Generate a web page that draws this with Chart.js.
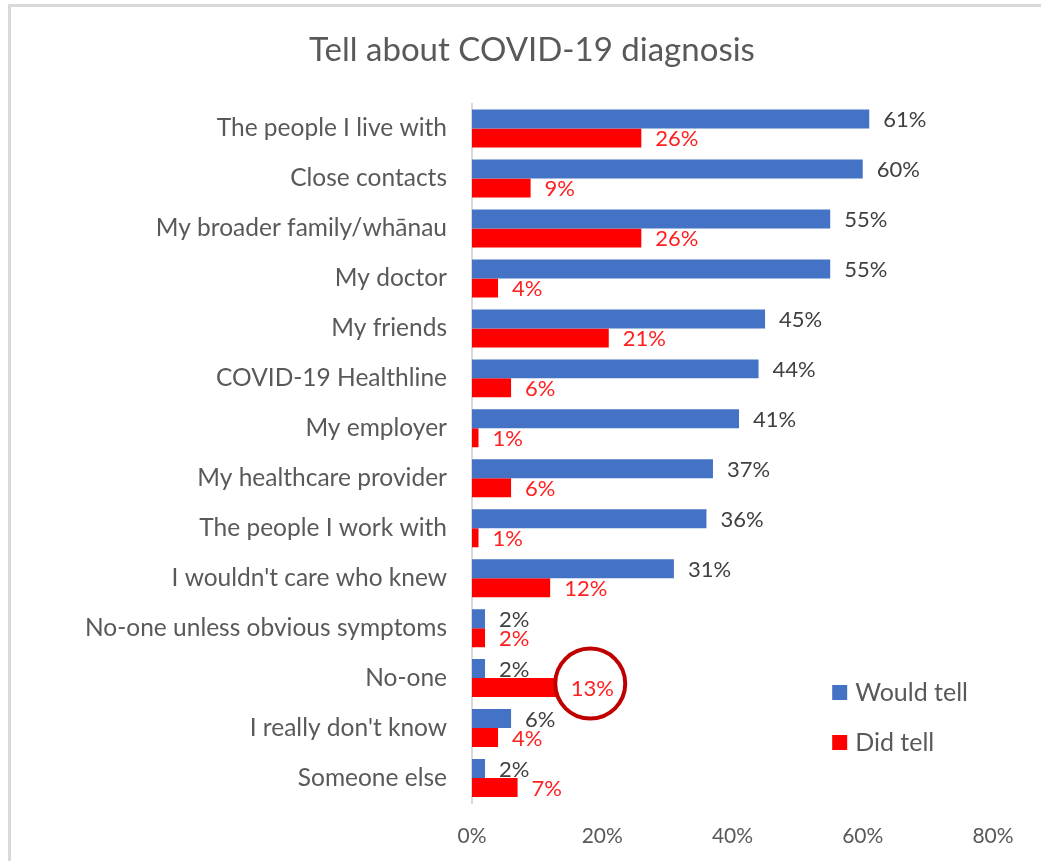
<!DOCTYPE html>
<html>
<head>
<meta charset="utf-8">
<script src="https://cdn.jsdelivr.net/npm/chart.js@4/dist/chart.umd.min.js"></script>
<style>
  html, body { margin: 0; padding: 0; background: #fff; }
  #frame {
    position: absolute; left: 8px; top: 4px; width: 1100px; height: 900px;
    border-left: 3px solid #d9d9d9; border-top: 3px solid #d9d9d9;
  }
  #chartBox { position: absolute; left: 0; top: 0; width: 1041px; height: 861px; }
</style>
</head>
<body>
<div id="frame"></div>
<div id="chartBox"><canvas id="tellChart"></canvas></div>
<script>
// who people would tell / did tell about a COVID-19 diagnosis (%)
const categories = [
  'The people I live with',
  'Close contacts',
  'My broader family/whānau',
  'My doctor',
  'My friends',
  'COVID-19 Healthline',
  'My employer',
  'My healthcare provider',
  'The people I work with',
  "I wouldn't care who knew",
  'No-one unless obvious symptoms',
  'No-one',
  "I really don't know",
  'Someone else'
];
const wouldTell = [61, 60, 55, 55, 45, 44, 41, 37, 36, 31, 2, 2, 6, 2];
const didTell = [26, 9, 26, 4, 21, 6, 1, 6, 1, 12, 2, 13, 4, 7];
const xTicks = [0, 20, 40, 60, 80];

const FONT = 'Lato, "Open Sans", sans-serif';
const GREY = '#595959';
const LABEL_SIZE = 22;
const LABEL_GAP = 14;

// value labels to the right of each bar
const barLabels = {
  id: 'barLabels',
  afterDatasetsDraw(chart) {
    const ctx = chart.ctx;
    ctx.save();
    ctx.font = LABEL_SIZE + 'px ' + FONT;
    ctx.textBaseline = 'middle';
    ctx.textAlign = 'left';
    chart.data.datasets.forEach((ds, i) => {
      const meta = chart.getDatasetMeta(i);
      ctx.fillStyle = ds.labelColor;
      meta.data.forEach((bar, j) => {
        ctx.fillText(ds.data[j] + '%', bar.x + LABEL_GAP, bar.y + 1);
      });
    });
    ctx.restore();
  }
};

// highlight ring round the "No-one" / Did tell value
const ringLabel = {
  id: 'ringLabel',
  afterDraw(chart) {
    const idx = categories.indexOf('No-one');
    const bar = chart.getDatasetMeta(1).data[idx];
    const ctx = chart.ctx;
    ctx.save();
    ctx.font = LABEL_SIZE + 'px ' + FONT;
    const w = ctx.measureText(didTell[idx] + '%').width;
    const cx = bar.x + LABEL_GAP + w / 2 - 2;
    const cy = bar.y - 4;
    ctx.beginPath();
    ctx.arc(cx, cy, 35, 0, Math.PI * 2);
    ctx.lineWidth = 4;
    ctx.strokeStyle = '#c00000';
    ctx.stroke();
    ctx.restore();
  }
};

// legend drawn inside the plot, lower right
const insideLegend = {
  id: 'insideLegend',
  afterDraw(chart) {
    const ctx = chart.ctx;
    const x = chart.scales.x.getPixelForValue(55) + 2;
    ctx.save();
    ctx.font = '25px ' + FONT;
    ctx.textBaseline = 'middle';
    chart.data.datasets.forEach((ds, i) => {
      const y = 692 + i * 50;
      ctx.fillStyle = ds.backgroundColor;
      ctx.fillRect(x, y - 7, 15, 15);
      ctx.fillStyle = GREY;
      ctx.fillText(ds.label, x + 23, y + 1);
    });
    ctx.restore();
  }
};

new Chart(document.getElementById('tellChart'), {
  type: 'bar',
  data: {
    labels: categories,
    datasets: [
      {
        label: 'Would tell',
        data: wouldTell,
        backgroundColor: '#4472c4',
        labelColor: '#404040',
        categoryPercentage: 0.76,
        barPercentage: 1.0
      },
      {
        label: 'Did tell',
        data: didTell,
        backgroundColor: '#ff0000',
        labelColor: '#ff2020',
        categoryPercentage: 0.76,
        barPercentage: 1.0
      }
    ]
  },
  options: {
    indexAxis: 'y',
    responsive: true,
    maintainAspectRatio: false,
    animation: false,
    layout: { padding: { top: 0, right: 48, bottom: 0, left: 71 } },
    plugins: {
      legend: { display: false },
      tooltip: { enabled: false },
      title: {
        display: true,
        text: 'Tell about COVID-19 diagnosis',
        color: GREY,
        font: { family: FONT, size: 33, weight: 'normal' },
        padding: { top: 31, bottom: 33 }
      }
    },
    scales: {
      x: {
        min: 0,
        max: 80,
        afterBuildTicks: (scale) => { scale.ticks = xTicks.map(v => ({ value: v })); },
        afterFit: (scale) => { scale.height = 58; },
        grid: { display: false, drawTicks: false },
        border: { display: false },
        ticks: {
          padding: 21,
          color: GREY,
          font: { family: FONT, size: 21 },
          callback: v => v + '%'
        }
      },
      y: {
        afterFit: (scale) => { scale.width = 401; },
        grid: { display: false, drawTicks: false },
        border: { display: true, color: '#d9d9d9', width: 2 },
        ticks: {
          padding: 25,
          color: GREY,
          font: { family: FONT, size: 24.5 }
        }
      }
    }
  },
  plugins: [barLabels, ringLabel, insideLegend]
});
</script>
</body>
</html>
